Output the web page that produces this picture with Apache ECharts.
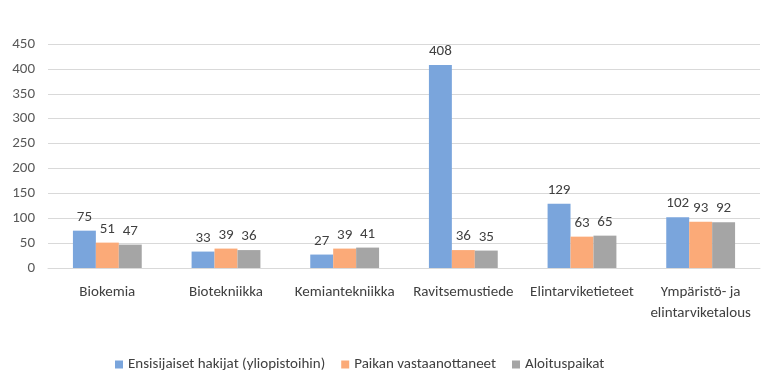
<!DOCTYPE html>
<html><head><meta charset="utf-8">
<script src="https://cdn.jsdelivr.net/npm/echarts@6/dist/echarts.min.js"></script>
<style>html,body{margin:0;padding:0;background:#fff}#c{width:770px;height:387px}</style>
</head><body><div id="c"></div>
<script>
const categories = ["Biokemia","Biotekniikka","Kemiantekniikka","Ravitsemustiede","Elintarviketieteet","Ympäristö- ja\nelintarviketalous"];
const seriesNames = ["Ensisijaiset hakijat (yliopistoihin)","Paikan vastaanottaneet","Aloituspaikat"];
const hakijat = [75,33,27,408,129,102];
const vastaanottaneet = [51,39,39,36,63,93];
const aloituspaikat = [47,36,41,35,65,92];
const colors = ["#7aa5dc","#fbaa78","#a5a5a5"];
const font = "Calibri, Carlito, Lato, sans-serif";
const chart = echarts.init(document.getElementById('c'));
const mk = (name, data, i) => ({
  name, type:'bar', data, barGap:'0%', barCategoryGap:'42%',
  itemStyle:{color:colors[i]},
  label:{show:true, position:'top', color:'#404040', fontSize:15, fontFamily:font, distance:6},
  animation:false
});
chart.setOption({
  animation:false,
  textStyle:{fontFamily:font},
  grid:{left:48,right:10,top:44,bottom:119,containLabel:false},
  legend:{bottom:10,left:110,itemWidth:8,itemHeight:8,itemGap:16,icon:'rect',
    textStyle:{color:'#404040',fontSize:15,fontFamily:font},
    data:seriesNames},
  xAxis:{type:'category',data:categories,
    axisLine:{lineStyle:{color:'#d9d9d9'}},axisTick:{show:false},
    axisLabel:{color:'#404040',fontSize:15,fontFamily:font,margin:14,interval:0,lineHeight:21}},
  yAxis:{type:'value',min:0,max:450,interval:50,
    axisLine:{show:false},axisTick:{show:false},
    splitLine:{lineStyle:{color:'#d9d9d9'}},
    axisLabel:{color:'#595959',fontSize:15,fontFamily:font,margin:13}},
  series:[mk(seriesNames[0],hakijat,0),mk(seriesNames[1],vastaanottaneet,1),mk(seriesNames[2],aloituspaikat,2)]
});
</script></body></html>
